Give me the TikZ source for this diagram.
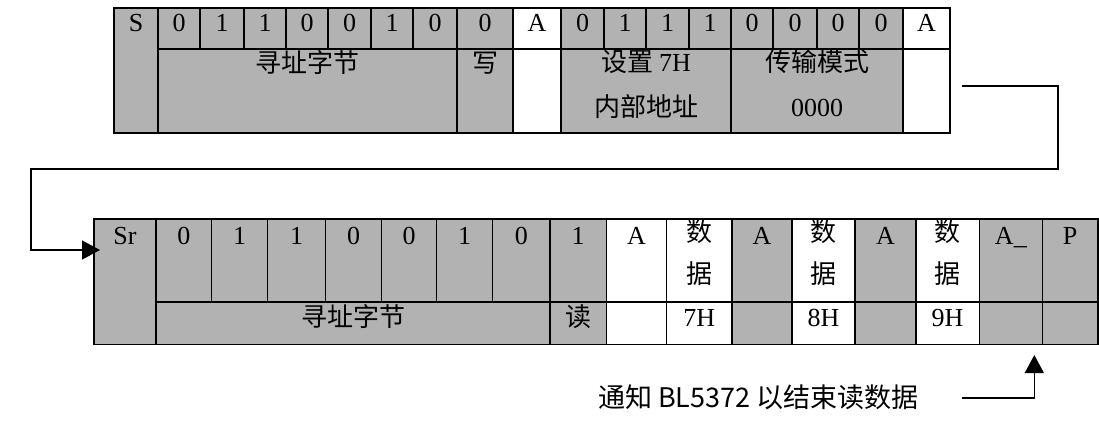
\documentclass[tikz,border=0pt]{standalone}
\usepackage{fontspec}
\setmainfont{Liberation Serif}
\newfontfamily\cjk{Noto Sans CJK SC}
\usetikzlibrary{arrows.meta}
\definecolor{cellgray}{RGB}{178,178,178}
\tikzset{
  cellbox/.style={draw=black, line width=1.4pt, inner sep=0pt, outer sep=0pt},
  lbl/.style={inner sep=0pt, text height=0.66em, text depth=0pt, font=\fontsize{26}{30}\selectfont},
  cjklbl/.style={inner sep=0pt, text height=0.76em, text depth=0pt, font=\fontsize{26}{30}\selectfont\cjk},
  conn/.style={line width=1.4pt, line join=miter},
  tiparrow/.style={-{Triangle[length=18pt,width=19pt]}}
}
\newcommand\mycell[6]{%
  \node[cellbox, fill=#6, minimum width={#4pt-#2pt}, minimum height={#5pt-#3pt}] (#1) at ({(#2+#4)/2},{(#3+#5)/2}) {};}
\begin{document}
\begin{tikzpicture}[x=1pt, y=-1pt]
\useasboundingbox (0,0) rectangle (1099,421);
% ---------------- top frame ----------------
\mycell{ts}{114}{8}{158}{133}{cellgray}
\node[lbl] (tst) at (136,28.5) {S};
\foreach \i/\xa/\xb/\v in {1/158/200/0,2/200/244/1,3/244/286/1,4/286/328/0,5/328/371/0,6/371/413/1,7/413/457/0,8/457/513/0}{
  \mycell{tb\i}{\xa}{8}{\xb}{49}{cellgray}
  \node[lbl] (tbt\i) at (tb\i) {\v};
}
\mycell{ta1}{513}{8}{561}{49}{white}
\node[lbl] (ta1t) at (ta1) {A};
\mycell{ta1l}{513}{49}{561}{133}{white}
\foreach \i/\xa/\xb/\v in {1/561/604/0,2/604/646/1,3/646/689/1,4/689/731/1,5/731/773/0,6/773/817/0,7/817/859/0,8/859/903/0}{
  \mycell{td\i}{\xa}{8}{\xb}{49}{cellgray}
  \node[lbl] (tdt\i) at (td\i) {\v};
}
\mycell{ta2}{903}{8}{950}{49}{white}
\node[lbl] (ta2t) at (ta2) {A};
\mycell{ta2l}{903}{49}{950}{133}{white}
\mycell{taddr}{158}{49}{457}{133}{cellgray}
\node[cjklbl] (taddrt) at (307.5,68.5) {寻址字节};
\mycell{tw}{457}{49}{513}{133}{cellgray}
\node[cjklbl] (twt) at (485,68.5) {写};
\mycell{tset}{561}{49}{731}{133}{cellgray}
\node[cjklbl] (tset1) at (646,68) {设置 {\rmfamily\fontsize{26}{30}\selectfont 7H}};
\node[cjklbl] (tset2) at (646,113) {内部地址};
\mycell{tmode}{731}{49}{903}{133}{cellgray}
\node[cjklbl] (tmode1) at (817,68) {传输模式};
\node[lbl] (tmode2) at (817,113) {0000};
% ---------------- bottom frame ----------------
\mycell{lsr}{94}{219}{156}{344.5}{cellgray}
\node[lbl] (lsrt) at (125,241.5) {Sr};
\foreach \i/\xa/\xb/\v in {1/156/211.7/0,2/211.7/267.3/1,3/267.3/325.7/1,4/325.7/381.7/0,5/381.7/436.7/0,6/436.7/492.7/1,7/492.7/550/0,8/550/606.4/1}{
  \mycell{lb\i}{\xa}{219}{\xb}{302}{cellgray}
  \node[lbl] (lbt\i) at ({(\xa+\xb)/2},241.5) {\v};
}
\mycell{laddr}{156}{302}{550}{344.5}{cellgray}
\node[cjklbl] (laddrt) at (353,322.5) {寻址字节};
\mycell{lr}{550}{302}{606.4}{344.5}{cellgray}
\node[cjklbl] (lrt) at (578.2,322.5) {读};
% A cells
\foreach \n/\xa/\xb/\c/\t in {1/606.4/666.6/white/A,2/731.9/792/cellgray/A,3/855/915.8/cellgray/A,4/979.4/1042.3/cellgray/A\_,5/1042.3/1098/cellgray/P}{
  \mycell{la\n}{\xa}{219}{\xb}{302}{\c}
  \node[lbl] (lat\n) at ({(\xa+\xb)/2},241.5) {\t};
  \mycell{la\n l}{\xa}{302}{\xb}{344.5}{\c}
}
% data cells
\foreach \n/\xa/\xb/\h in {1/666.6/731.9/7H,2/792/855/8H,3/915.8/979.4/9H}{
  \mycell{ld\n}{\xa}{219}{\xb}{302}{white}
  \node[cjklbl] (ldt\n a) at ({(\xa+\xb)/2},238) {数};
  \node[cjklbl] (ldt\n b) at ({(\xa+\xb)/2},280) {据};
  \mycell{ld\n l}{\xa}{302}{\xb}{344.5}{white}
  \node[lbl] (ldh\n) at (ld\n l) {\h};
}
% ---------------- connectors ----------------
\coordinate (c0) at (962,86);
\draw[conn, tiparrow] (c0) -- (1058,86) -- (1058,169) -- (31,169) -- (31,250) -- ([shift={(6,31)}]lsr.north west);
\node[cjklbl, anchor=west, font=\fontsize{27}{30}\selectfont\cjk] (note) at (598,404) {通知 BL5372 以结束读数据};
\coordinate (c1) at (962,398);
\draw[conn, tiparrow] (c1) -| ([shift={(-8,10.5)}]la4l.south east);
\end{tikzpicture}
\end{document}
